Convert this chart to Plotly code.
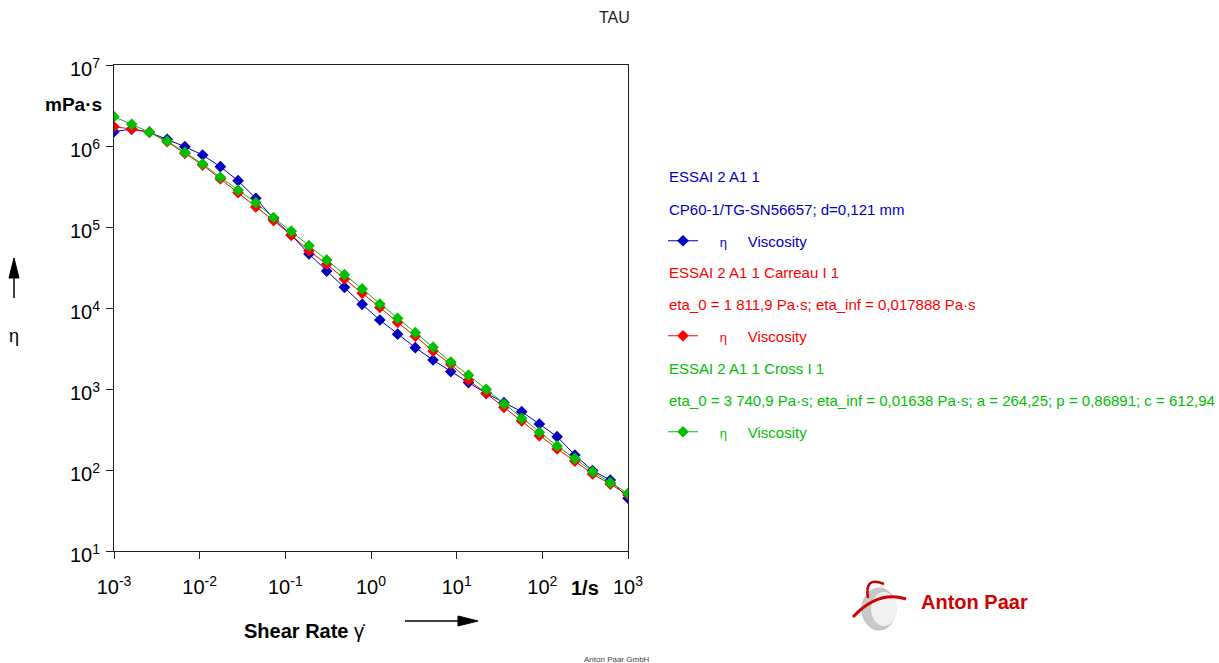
import plotly.graph_objects as go

# Shear rate ramp (1/s), 30 log-spaced points
shear_rate = [0.001, 0.00161, 0.00259, 0.004175, 0.006723, 0.010826, 0.017433,
              0.028072, 0.045204, 0.07279, 0.11721, 0.18874, 0.30392, 0.48939,
              0.78805, 1.269, 2.0434, 3.2903, 5.2983, 8.5317, 13.738, 22.122,
              35.622, 57.362, 92.367, 148.74, 239.5, 385.66, 621.0, 1000.0]

# Viscosity (mPa·s)
visc_measured = [1.50e6, 1.62e6, 1.48e6, 1.21e6, 9.80e5, 7.74e5, 5.55e5, 3.73e5,
                 2.26e5, 1.27e5, 7.96e4, 4.65e4, 2.86e4, 1.80e4, 1.11e4, 7110,
                 4750, 3240, 2280, 1640, 1200, 885, 678, 525, 370, 258, 153,
                 98.6, 75.3, 44.8]
visc_carreau = [1.73e6, 1.62e6, 1.48e6, 1.13e6, 8.13e5, 5.82e5, 3.92e5, 2.65e5,
                1.77e5, 1.20e5, 7.96e4, 5.09e4, 3.47e4, 2.28e4, 1.52e4, 1.02e4,
                6650, 4480, 2940, 2020, 1290, 885, 594, 403, 265, 182, 129,
                89.3, 67.1, 49.1]
visc_cross = [2.30e6, 1.85e6, 1.48e6, 1.15e6, 8.36e5, 6.00e5, 4.11e5, 2.86e5,
              2.00e5, 1.31e5, 8.87e4, 5.88e4, 3.92e4, 2.58e4, 1.72e4, 1.12e4,
              7460, 4960, 3280, 2150, 1480, 991, 653, 435, 292, 198, 139,
              95.3, 69.7, 51.5]

x_tickvals = [1e-3, 1e-2, 1e-1, 1, 10, 100, 1000]
x_ticktext = ["10<sup>-3</sup>", "10<sup>-2</sup>", "10<sup>-1</sup>", "10<sup>0</sup>",
              "10<sup>1</sup>", "10<sup>2</sup>", "10<sup>3</sup>"]
y_tickvals = [1e1, 1e2, 1e3, 1e4, 1e5, 1e6, 1e7]
y_ticktext = ["10<sup>1</sup>", "10<sup>2</sup>", "10<sup>3</sup>", "10<sup>4</sup>",
              "10<sup>5</sup>", "10<sup>6</sup>", "10<sup>7</sup>"]
x_minor = [5e-3, 5e-2, 5e-1, 5, 50, 500]
y_minor = [50, 500, 5e3, 5e4, 5e5, 5e6]

BLUE = "#0000C0"
RED = "#FF0000"
GREEN = "#00C000"
FONT = "Liberation Sans, Arial, sans-serif"

W, H = 1219, 663
L, R, T, B = 114, 628, 65, 551


def pxx(px):
    return (px - L) / (R - L)


def pxy(py):
    return (B - py) / (B - T)


NB = "\u00a0"
fig = go.Figure()
series = [
    (visc_measured, BLUE, "legend"),
    (visc_carreau, RED, "legend2"),
    (visc_cross, GREEN, "legend3"),
]
for vals, col, leg in series:
    fig.add_trace(go.Scatter(
        x=shear_rate, y=vals, mode="lines+markers",
        line=dict(color=col, width=1),
        marker=dict(symbol="diamond", size=9, color=col),
        name=NB * 4 + "<span style='font-size:13px'>η</span>" + NB * 5 + "Viscosity",
        legend=leg, showlegend=True,
    ))


def legend_box(ypx, color):
    return dict(x=pxx(663), y=pxy(ypx), xanchor="left", yanchor="middle",
                bgcolor="rgba(0,0,0,0)", borderwidth=0, itemwidth=30,
                font=dict(family=FONT, size=15, color=color))


axis_common = dict(type="log", showgrid=False, zeroline=False)

fig.update_layout(
    width=W, height=H,
    margin=dict(l=L, r=W - R, t=T, b=H - B),
    paper_bgcolor="white", plot_bgcolor="white",
    font=dict(family=FONT, color="#000"),
    xaxis=dict(**axis_common, range=[-3, 3], showline=True, linecolor="#222",
               linewidth=1, mirror=True, ticks="outside", ticklen=7,
               tickcolor="#222", tickvals=x_tickvals, ticktext=x_ticktext,
               tickfont=dict(size=20, family=FONT, color="#000"),
               ticklabelstandoff=11),
    yaxis=dict(**axis_common, range=[1, 7], showline=True, linecolor="#222",
               linewidth=1, mirror=True, ticks="outside", ticklen=7,
               tickcolor="#222", tickvals=y_tickvals, ticktext=y_ticktext,
               tickfont=dict(size=20, family=FONT, color="#000"),
               ticklabelstandoff=2, ticklabelshift=4),
    # inner halves of the major ticks plus the 5x minor ticks
    xaxis2=dict(**axis_common, range=[-3, 3], overlaying="x", anchor="y",
                side="bottom", ticks="inside", ticklen=6, tickcolor="#222",
                tickvals=x_tickvals, showticklabels=False, showline=False,
                minor=dict(ticks="inside", ticklen=3, tickcolor="#444",
                           tickvals=x_minor)),
    yaxis2=dict(**axis_common, range=[1, 7], overlaying="y", anchor="x",
                side="left", ticks="inside", ticklen=6, tickcolor="#222",
                tickvals=y_tickvals, showticklabels=False, showline=False,
                minor=dict(ticks="inside", ticklen=3, tickcolor="#444",
                           tickvals=y_minor)),
    legend=legend_box(241, BLUE),
    legend2=legend_box(336, RED),
    legend3=legend_box(432, GREEN),
)

annotations = [
    dict(text="TAU", x=pxx(614), y=pxy(18), font=dict(size=16, color="#222")),
    dict(text="<b>mPa·s</b>", x=pxx(104), y=pxy(105), xanchor="right",
         font=dict(size=19)),
    dict(text="<b>1/s</b>", x=pxx(585), y=pxy(588), font=dict(size=20)),
    dict(text="<b>Shear Rate</b> γ\u0307", x=pxx(242), y=pxy(631), xanchor="left",
         font=dict(size=20)),
    dict(text="η", x=pxx(14), y=pxy(336), font=dict(size=18)),
    dict(text="Anton Paar GmbH", x=pxx(617), y=pxy(659), font=dict(size=8, color="#444")),
    dict(text="<b>Anton Paar</b>", x=pxx(919), y=pxy(602), xanchor="left",
         font=dict(size=20, color="#D00000")),
    dict(text="ESSAI 2 A1 1", x=pxx(667), y=pxy(177), xanchor="left",
         font=dict(size=15, color=BLUE)),
    dict(text="CP60-1/TG-SN56657; d=0,121 mm", x=pxx(667), y=pxy(209), xanchor="left",
         font=dict(size=15, color=BLUE)),
    dict(text="ESSAI 2 A1 1 Carreau I 1", x=pxx(667), y=pxy(272), xanchor="left",
         font=dict(size=15, color=RED)),
    dict(text="eta_0 = 1 811,9 Pa·s; eta_inf = 0,017888 Pa·s", x=pxx(667), y=pxy(304),
         xanchor="left", font=dict(size=15, color=RED)),
    dict(text="ESSAI 2 A1 1 Cross I 1", x=pxx(667), y=pxy(368), xanchor="left",
         font=dict(size=15, color=GREEN)),
    dict(text="eta_0 = 3 740,9 Pa·s; eta_inf = 0,01638 Pa·s; a = 264,25; p = 0,86891; c = 612,94",
         x=pxx(667), y=pxy(400), xanchor="left", font=dict(size=15, color=GREEN)),
]
for a in annotations:
    a.setdefault("xanchor", "center")
    a.update(xref="paper", yref="paper", yanchor="middle", showarrow=False)
    fig.add_annotation(**a)


def path(points):
    return "M " + " L ".join(f"{pxx(x):.5f},{pxy(y):.5f}" for x, y in points) + " Z"


shapes = [
    # axis-direction arrows
    dict(type="line", x0=pxx(405), y0=pxy(621), x1=pxx(460), y1=pxy(621),
         line=dict(color="black", width=1.5)),
    dict(type="path", path=path([(458, 616), (478, 621), (458, 626)]),
         fillcolor="black", line=dict(color="black", width=1)),
    dict(type="line", x0=pxx(14), y0=pxy(298), x1=pxx(14), y1=pxy(276),
         line=dict(color="black", width=1.5)),
    dict(type="path", path=path([(9, 278), (14, 258), (19, 278)]),
         fillcolor="black", line=dict(color="black", width=1)),
    # logo emblem
    dict(type="circle", x0=pxx(862), x1=pxx(896), y0=pxy(588), y1=pxy(630),
         fillcolor="#C8C8C8", line=dict(color="#BBBBBB", width=1)),
    dict(type="circle", x0=pxx(871), x1=pxx(897), y0=pxy(592), y1=pxy(626),
         fillcolor="#F0F0F0", line=dict(width=0)),
    dict(type="path",
         path=f"M {pxx(853)},{pxy(617)} Q {pxx(878)},{pxy(590)} {pxx(906)},{pxy(599)}",
         line=dict(color="#D00000", width=3)),
    dict(type="path",
         path=f"M {pxx(868)},{pxy(598)} Q {pxx(864)},{pxy(576)} {pxx(884)},{pxy(584)}",
         line=dict(color="#D00000", width=2.5)),
]
for s in shapes:
    s.update(xref="paper", yref="paper", layer="above")
    fig.add_shape(**s)

fig.write_html("out.html")
